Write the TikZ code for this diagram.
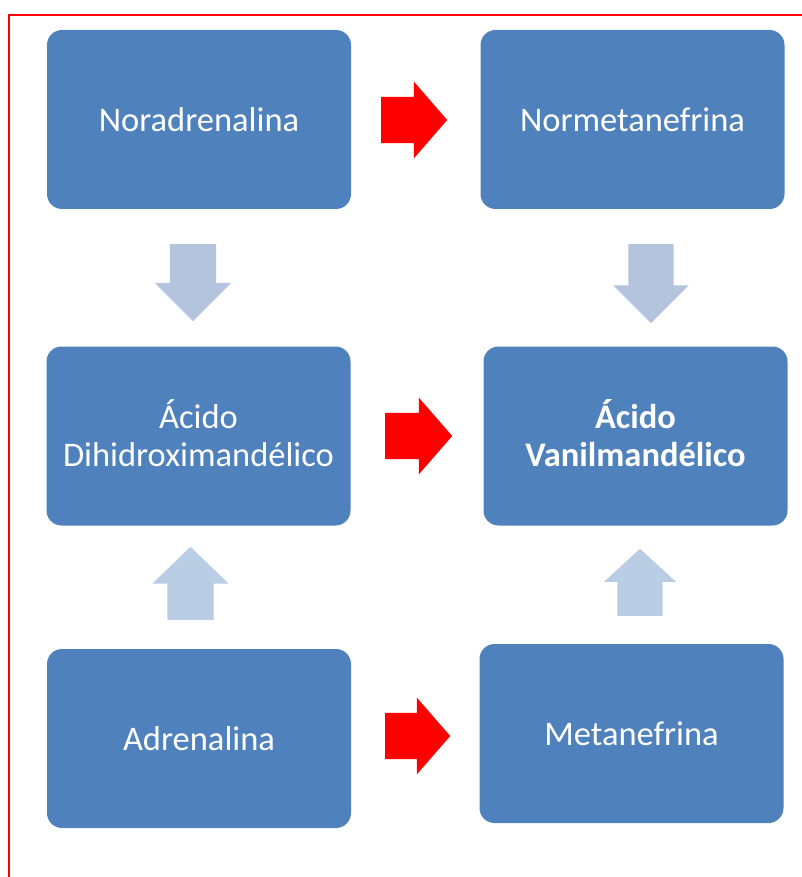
\documentclass[tikz,border=0pt]{standalone}
\usepackage{fontspec}
\setmainfont{Carlito}
\usetikzlibrary{shapes.arrows,positioning}
\definecolor{boxblue}{HTML}{4F81BD}
\definecolor{downblue}{HTML}{B4C3DE}
\definecolor{upblue}{HTML}{B9CDE5}

\begin{document}
\begin{tikzpicture}[x=1pt, y=-1pt,
        block/.style={rectangle, rounded corners=15pt, fill=boxblue, text=white, minimum width=304pt, minimum height=179pt, align=center, inner sep=0pt, font=\fontsize{34.5}{38}\selectfont},
        twoline/.style={block, text depth=6pt},
        % flechas gruesas entre cajas
        fatarrow/.style={single arrow, draw=none, inner xsep=0pt, single arrow head extend=15pt, anchor=tail},
        redarrow/.style={fatarrow, fill=red, inner ysep=23pt, single arrow tip angle=98, minimum height=66pt},
        downarrow/.style={fatarrow, fill=downblue, inner ysep=23pt, single arrow tip angle=90, rotate=-90},
        uparrow/.style={fatarrow, fill=upblue, rotate=90}
    ]
    \useasboundingbox (0,0) rectangle (802,877);

    % --- marco rojo ---
    \draw[red, line width=2pt] (802,15.5) -| (8.5,877);

    % --- cajas ---
    \node (nora) [block] at (199,119.5) {Noradrenalina};
    \node (normeta) [block] at (632.5,119.5) {Normetanefrina};
    \node (dhma) [twoline] at (198.5,436) {Ácido\\Dihidroximandélico};
    \node (vma) [twoline, font=\fontsize{34.5}{38}\selectfont\bfseries] at (635.5,436) {Ácido\\Vanilmandélico};
    \node (adre) [block] at (199,738.5) {Adrenalina};
    \node (meta) [block] at (631.5,733.5) {Metanefrina};

    % --- flechas rojas ---
    \node (r1) [redarrow] at (381,120) {};
    \node (r2) [redarrow, minimum height=67pt] at (385,436) {};
    \node (r3) [redarrow, minimum height=65pt] at (385,736) {};

    % --- flechas azules ---
    \node (d1) [downarrow, minimum height=77pt] at (193,244) {};
    \node (d2) [downarrow, minimum height=79pt, inner ysep=22.5pt] at (651,244) {};
    \node (u1) [uparrow, inner ysep=23pt, single arrow tip angle=92, minimum height=73pt, single arrow head extend=15pt] at (190.5,620) {};
    \node (u2) [uparrow, inner ysep=22.5pt, single arrow tip angle=95, minimum height=67pt, single arrow head extend=13.5pt] at (640,616) {};

\end{tikzpicture}
\end{document}
